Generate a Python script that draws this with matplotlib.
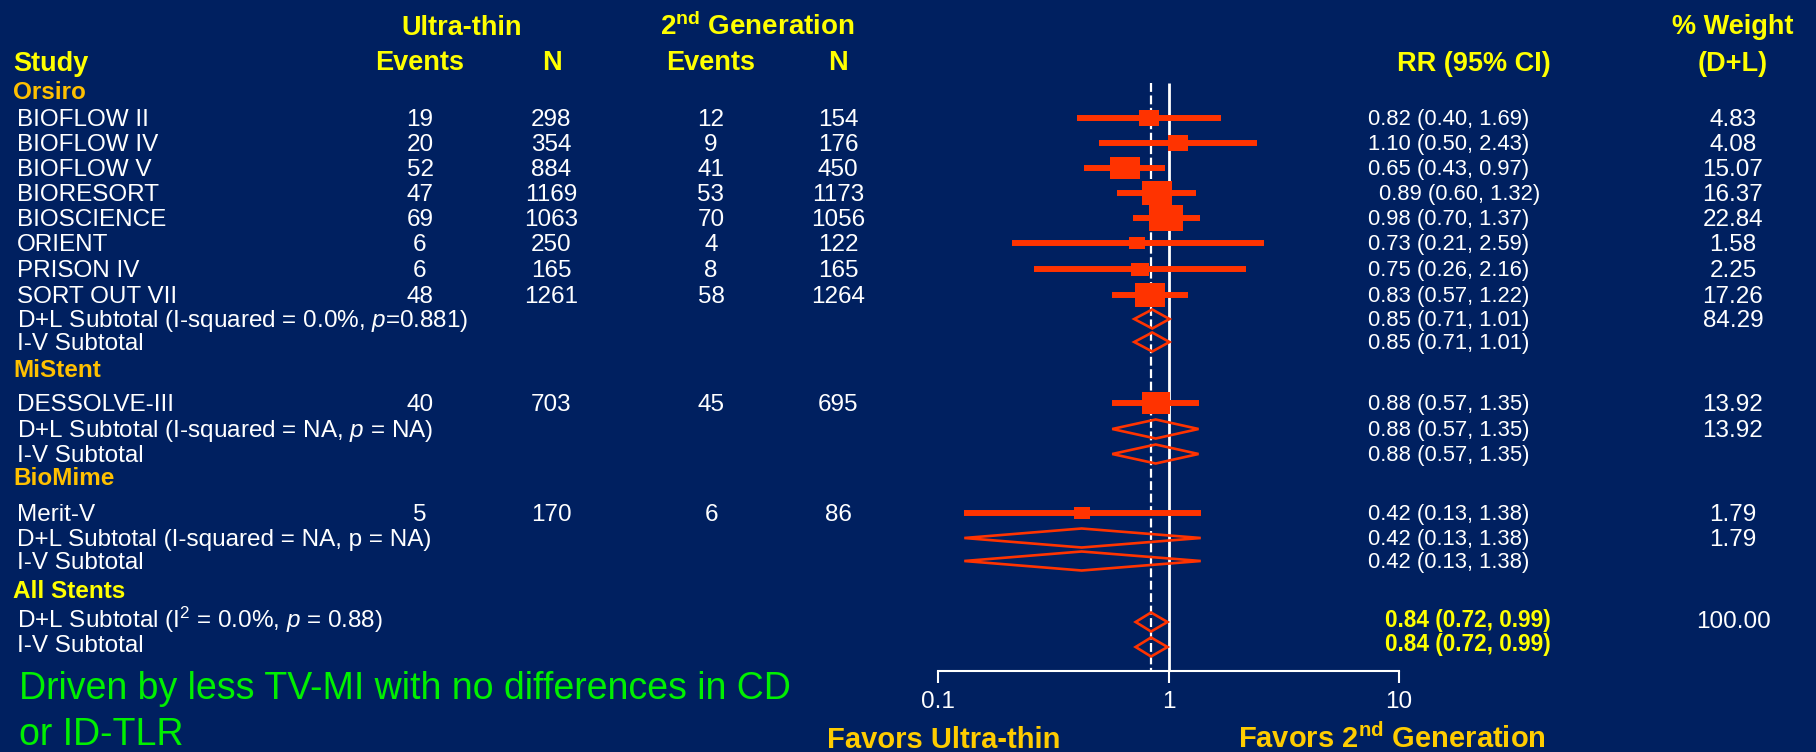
import numpy as np
import matplotlib
matplotlib.use("Agg")
import matplotlib.pyplot as plt
from matplotlib.path import Path
from matplotlib.patches import Polygon
from matplotlib.ticker import NullLocator

plt.rcParams["font.family"] = ["Liberation Sans", "DejaVu Sans"]
plt.rcParams["mathtext.fontset"] = "custom"
plt.rcParams["mathtext.rm"] = "Liberation Sans"
plt.rcParams["mathtext.it"] = "Liberation Sans:italic"
plt.rcParams["mathtext.bf"] = "Liberation Sans:bold"

# ---------------- data ----------------
studies = ["BIOFLOW II", "BIOFLOW IV", "BIOFLOW V", "BIORESORT", "BIOSCIENCE",
           "ORIENT", "PRISON IV", "SORT OUT VII", "DESSOLVE-III", "Merit-V"]
ut_events = [19, 20, 52, 47, 69, 6, 6, 48, 40, 5]
ut_n = [298, 354, 884, 1169, 1063, 250, 165, 1261, 703, 170]
g2_events = [12, 9, 41, 53, 70, 4, 8, 58, 45, 6]
g2_n = [154, 176, 450, 1173, 1056, 122, 165, 1264, 695, 86]
rr = [0.82, 1.10, 0.65, 0.89, 0.98, 0.73, 0.75, 0.83, 0.88, 0.42]
rr_lo = [0.40, 0.50, 0.43, 0.60, 0.70, 0.21, 0.26, 0.57, 0.57, 0.13]
rr_hi = [1.69, 2.43, 0.97, 1.32, 1.37, 2.59, 2.16, 1.22, 1.35, 1.38]
weight = [4.83, 4.08, 15.07, 16.37, 22.84, 1.58, 2.25, 17.26, 13.92, 1.79]

groups = ["Orsiro", "MiStent", "BioMime"]
sub_dl_labels = [r"D+L Subtotal (I-squared = 0.0%, $\mathit{p}$=0.881)",
                 r"D+L Subtotal (I-squared = NA, $\mathit{p}$ = NA)",
                 "D+L Subtotal (I-squared = NA, p = NA)"]
sub_rr = [0.85, 0.88, 0.42]
sub_lo = [0.71, 0.57, 0.13]
sub_hi = [1.01, 1.35, 1.38]
sub_weight = [84.29, 13.92, 1.79]

overall_label = "All Stents"
overall_dl_label = r"D+L Subtotal (I$^{\mathregular{2}}$ = 0.0%, $\mathit{p}$ = 0.88)"
overall_rr, overall_lo, overall_hi = 0.84, 0.72, 0.99
overall_weight = 100.00

x_ticks = [0.1, 1, 10]
x_tick_labels = ["0.1", "1", "10"]
note_lines = ["Driven by less TV-MI with no differences in CD", "or ID-TLR"]

# ---------------- styling / layout ----------------
BG = "#002060"
RED = "#FF3300"
YEL = "#FFFF00"
GOLD = "#FFC000"
FAV = "#FFCC00"
GREEN = "#00F000"
WHITE = "#FFFFFF"

W, H = 1816, 752
FS = 17.5      # body text size
RFS = 15.8     # RR (95% CI) column
HFS = 19.5     # header text size

study_y = [118, 143, 168, 193, 218, 243, 269, 295, 403, 513]
group_y = [90, 368, 476]
sub_dl_y = [319, 429, 538]
sub_iv_y = [342, 454, 561]
all_y = 589
all_dl_y, all_iv_y = 621, 645

X_NAME, X_GROUP = 17, 13
X_UTE, X_UTN, X_G2E, X_G2N = 420, 551, 711, 838
X_RR, X_RR_BOLD, X_W = 1368, 1385, 1733
rr_indent = {"BIORESORT": 11}

fig = plt.figure(figsize=(W / 100, H / 100), dpi=100, facecolor=BG)

tx = fig.add_axes([0, 0, 1, 1])
tx.set_xlim(0, W)
tx.set_ylim(H, 0)
tx.axis("off")


def put(x, yc, s, size=FS, ha="left", color=WHITE, weight="normal"):
    """Place text so that its capital letters are centred on yc (pixels)."""
    tx.text(x, yc + 0.497 * size, s, ha=ha, va="baseline", fontsize=size,
            color=color, fontweight=weight)


def ci_text(a, b, c):
    return f"{a:.2f} ({b:.2f}, {c:.2f})"


# column headers
put(462, 25, "Ultra-thin", HFS, "center", YEL, "bold")
put(757, 25, r"2$^{\mathregular{nd}}$ Generation", 20, "center", YEL, "bold")
put(13, 61, "Study", HFS, "left", YEL, "bold")
put(X_UTE, 60, "Events", HFS, "center", YEL, "bold")
put(X_UTN + 1, 60, "N", HFS, "center", YEL, "bold")
put(X_G2E, 60, "Events", HFS, "center", YEL, "bold")
put(X_G2N, 60, "N", HFS, "center", YEL, "bold")
put(1474, 61, "RR (95% CI)", HFS, "center", YEL, "bold")
put(1733, 24, "% Weight", HFS, "center", YEL, "bold")
put(1733, 61, "(D+L)", HFS, "center", YEL, "bold")

# study rows
for i, name in enumerate(studies):
    y = study_y[i] - 1
    put(X_NAME, y, name)
    put(X_UTE, y, str(ut_events[i]), ha="center")
    put(X_UTN, y, str(ut_n[i]), ha="center")
    put(X_G2E, y, str(g2_events[i]), ha="center")
    put(X_G2N, y, str(g2_n[i]), ha="center")
    put(X_RR + rr_indent.get(name, 0), y, ci_text(rr[i], rr_lo[i], rr_hi[i]), RFS)
    put(X_W, y, f"{weight[i]:.2f}", ha="center")

# subgroup headers and subtotals
for g, gname in enumerate(groups):
    put(X_GROUP, group_y[g], gname, FS, "left", GOLD, "bold")
    y = sub_dl_y[g] - 1
    put(X_NAME, y, sub_dl_labels[g])
    put(X_RR, y, ci_text(sub_rr[g], sub_lo[g], sub_hi[g]), RFS)
    put(X_W, y, f"{sub_weight[g]:.2f}", ha="center")
    y = sub_iv_y[g] - 1
    put(X_NAME, y, "I-V Subtotal")
    put(X_RR, y, ci_text(sub_rr[g], sub_lo[g], sub_hi[g]), RFS)

# overall
put(X_GROUP, all_y, overall_label, FS, "left", YEL, "bold")
put(X_NAME, all_dl_y - 2, overall_dl_label)
put(X_RR_BOLD, all_dl_y - 2, ci_text(overall_rr, overall_lo, overall_hi),
    16.3, color=YEL, weight="bold")
put(X_W, all_dl_y - 2, f"{overall_weight:.2f}", ha="center")
put(X_NAME, all_iv_y - 2, "I-V Subtotal")
put(X_RR_BOLD, all_iv_y - 2, ci_text(overall_rr, overall_lo, overall_hi),
    16.3, color=YEL, weight="bold")

# note and favour labels
put(19, 686, note_lines[0], 27, "left", GREEN)
put(19, 732, note_lines[1], 27, "left", GREEN)
put(944, 738, "Favors Ultra-thin", 21, "center", FAV, "bold")
put(1392, 738, r"Favors 2$^{\mathregular{nd}}$ Generation", 21, "center", FAV, "bold")

# ---------------- forest panel ----------------
X_LEFT, X_RIGHT = 938, 1399
AXIS_Y, LINE_TOP = 671, 83
ax = fig.add_axes([X_LEFT / W, 0, (X_RIGHT - X_LEFT) / W, 1])
ax.set_xscale("log")
ax.set_xlim(0.1, 10)
ax.set_ylim(H, 0)
ax.patch.set_visible(False)
for side in ("top", "left", "right"):
    ax.spines[side].set_visible(False)
ax.spines["bottom"].set_position(("data", AXIS_Y))
ax.spines["bottom"].set_bounds(0.1, 10)
ax.spines["bottom"].set_color(WHITE)
ax.spines["bottom"].set_linewidth(1.5)
ax.set_yticks([])
ax.set_xticks(x_ticks, x_tick_labels)
ax.xaxis.set_minor_locator(NullLocator())
ax.tick_params(axis="x", direction="out", length=8.6, width=1.5,
               colors=WHITE, labelsize=FS, pad=5.5)

# reference lines: null effect and overall estimate
ax.vlines(1, LINE_TOP, AXIS_Y, color=WHITE, lw=2, zorder=1)
ax.vlines(overall_rr, LINE_TOP, AXIS_Y, color=WHITE, lw=1.6,
          linestyles=(0, (4, 1.6)), zorder=1)

# study estimates: CI bars and weight-scaled boxes
ax.hlines(study_y, rr_lo, rr_hi, color=RED, lw=4.3, zorder=2)
for i in range(len(studies)):
    w_px = 10 + 5 * np.sqrt(weight[i])
    h_px = 7 + 4 * np.sqrt(weight[i])
    r = h_px / w_px
    box = Path([(-1, -r), (1, -r), (1, r), (-1, r), (-1, -r)],
               [Path.MOVETO, Path.LINETO, Path.LINETO, Path.LINETO, Path.CLOSEPOLY])
    ax.plot([rr[i]], [study_y[i]], marker=box, ms=w_px * 0.72, color=RED,
            mew=0, ls="none", zorder=3)


def diamond(est, lo, hi, y, half_h=9.5):
    ax.add_patch(Polygon([(lo, y), (est, y - half_h), (hi, y), (est, y + half_h)],
                         closed=True, fill=False, edgecolor=RED, lw=1.9,
                         joinstyle="miter", zorder=3))


for g in range(len(groups)):
    diamond(sub_rr[g], sub_lo[g], sub_hi[g], sub_dl_y[g])
    diamond(sub_rr[g], sub_lo[g], sub_hi[g], sub_iv_y[g])
diamond(overall_rr, overall_lo, overall_hi, all_dl_y + 1)
diamond(overall_rr, overall_lo, overall_hi, all_iv_y + 2)

fig.savefig("out.png", dpi=100, facecolor=BG)
